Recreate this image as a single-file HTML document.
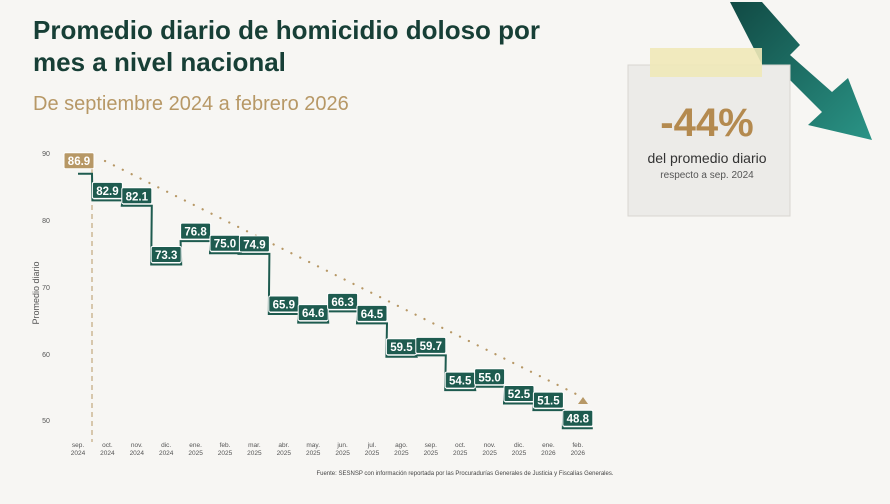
<!DOCTYPE html>
<html><head><meta charset="utf-8"><style>
body{margin:0;width:890px;height:504px;overflow:hidden;background:#f7f6f3;font-family:"Liberation Sans",sans-serif}
</style></head><body>
<svg width="890" height="504" xmlns="http://www.w3.org/2000/svg" style="position:absolute;left:0;top:0">
<defs><linearGradient id="ar" x1="0" y1="0" x2="1" y2="1"><stop offset="0" stop-color="#114a44"/><stop offset="1" stop-color="#2a9486"/></linearGradient></defs>
<rect width="890" height="504" fill="#f7f6f3"/>
<text x="33" y="39" font-size="26" font-weight="bold" fill="#173f36">Promedio diario de homicidio doloso por</text>
<text x="33" y="71" font-size="26" font-weight="bold" fill="#173f36">mes a nivel nacional</text>
<text x="33" y="110" font-size="20" fill="#b79866">De septiembre 2024 a febrero 2026</text>
<!-- arrow -->
<polygon points="730,2 762,2 800,45 790,55 832,92 848,78 872,140 808,125 822,112 780,70 770,80" fill="url(#ar)"/>
<!-- card -->
<rect x="628" y="65" width="162" height="151" fill="#ecebe8" stroke="#d8d6d1"/>
<rect x="650" y="48" width="112" height="29" fill="#efe9b8" opacity="0.9"/>
<text x="707" y="136" text-anchor="middle" font-size="40" font-weight="bold" fill="#b48a4f">-44%</text>
<text x="707" y="163" text-anchor="middle" font-size="14" fill="#333">del promedio diario</text>
<text x="707" y="178" text-anchor="middle" font-size="10" fill="#555">respecto a sep. 2024</text>
<!-- axis -->
<g font-size="7" fill="#555" text-anchor="middle">
<text x="46" y="156">90</text><text x="46" y="223">80</text><text x="46" y="290">70</text><text x="46" y="357">60</text><text x="46" y="423">50</text>
</g>
<text transform="translate(39,293) rotate(-90)" text-anchor="middle" font-size="9" fill="#555">Promedio diario</text>
<line x1="92" y1="160" x2="92" y2="442" stroke="#b79866" stroke-dasharray="5,4" stroke-width="1"/>
<line x1="105" y1="161" x2="580" y2="396" stroke="#b79866" stroke-width="2.2" stroke-dasharray="0.1,9.8" stroke-linecap="round"/>
<polygon points="583,397 578,404 588,404" fill="#b79866"/>
<g id="steps"></g>
<g id="xl" font-size="6.5" fill="#555" text-anchor="middle"></g>
<text x="465" y="475" text-anchor="middle" font-size="6" fill="#444">Fuente: SESNSP con información reportada por las Procuradurías Generales de Justicia y Fiscalías Generales.</text>
</svg>
<script>
var v=[86.9,82.9,82.1,73.3,76.8,75.0,74.9,65.9,64.6,66.3,64.5,59.5,59.7,54.5,55.0,52.5,51.5,48.8];
var m=["sep.","oct.","nov.","dic.","ene.","feb.","mar.","abr.","may.","jun.","jul.","ago.","sep.","oct.","nov.","dic.","ene.","feb."];
var yr=["2024","2024","2024","2024","2025","2025","2025","2025","2025","2025","2025","2025","2025","2025","2025","2025","2026","2026"];
function Y(a){return 153+(90-a)*6.68}
var ns="http://www.w3.org/2000/svg",s=document.getElementById("steps"),xl=document.getElementById("xl");
var d="";for(var i=0;i<v.length;i++){var x=78+i*29.4;var a=i==0?78:x-15,b=i==0?92:x+15;if(i==0)d="M"+a+" "+Y(v[i]);else d+=" L"+a+" "+Y(v[i]);d+=" L"+b+" "+Y(v[i]);}
var p=document.createElementNS(ns,"path");p.setAttribute("d",d);p.setAttribute("fill","none");p.setAttribute("stroke","#1e5b4f");p.setAttribute("stroke-width","2");s.appendChild(p);
for(var i=0;i<v.length;i++){var x=78+i*29.4;if(i==0)x=79;var y=Y(v[i]);
var r=document.createElementNS(ns,"rect");r.setAttribute("x",x-15);r.setAttribute("y",y-18);r.setAttribute("width",30);r.setAttribute("height",16);r.setAttribute("rx",1.5);r.setAttribute("fill",i==0?"#b79866":"#1e5b4f");r.setAttribute("stroke","#fff");r.setAttribute("stroke-width","1");if(i==0){r.setAttribute("y",y-21);}s.appendChild(r);
var t=document.createElementNS(ns,"text");t.setAttribute("x",x);t.setAttribute("y",(i==0?y-8.5:y-5.5));t.setAttribute("text-anchor","middle");t.setAttribute("font-size","11.5");t.setAttribute("font-weight","bold");t.setAttribute("fill","#fff");t.textContent=v[i].toFixed(1);s.appendChild(t);
var a=document.createElementNS(ns,"text");a.setAttribute("x",78+i*29.4);a.setAttribute("y",447);a.textContent=m[i];xl.appendChild(a);
var b=document.createElementNS(ns,"text");b.setAttribute("x",78+i*29.4);b.setAttribute("y",455);b.textContent=yr[i];xl.appendChild(b);}
</script>
</body></html>
